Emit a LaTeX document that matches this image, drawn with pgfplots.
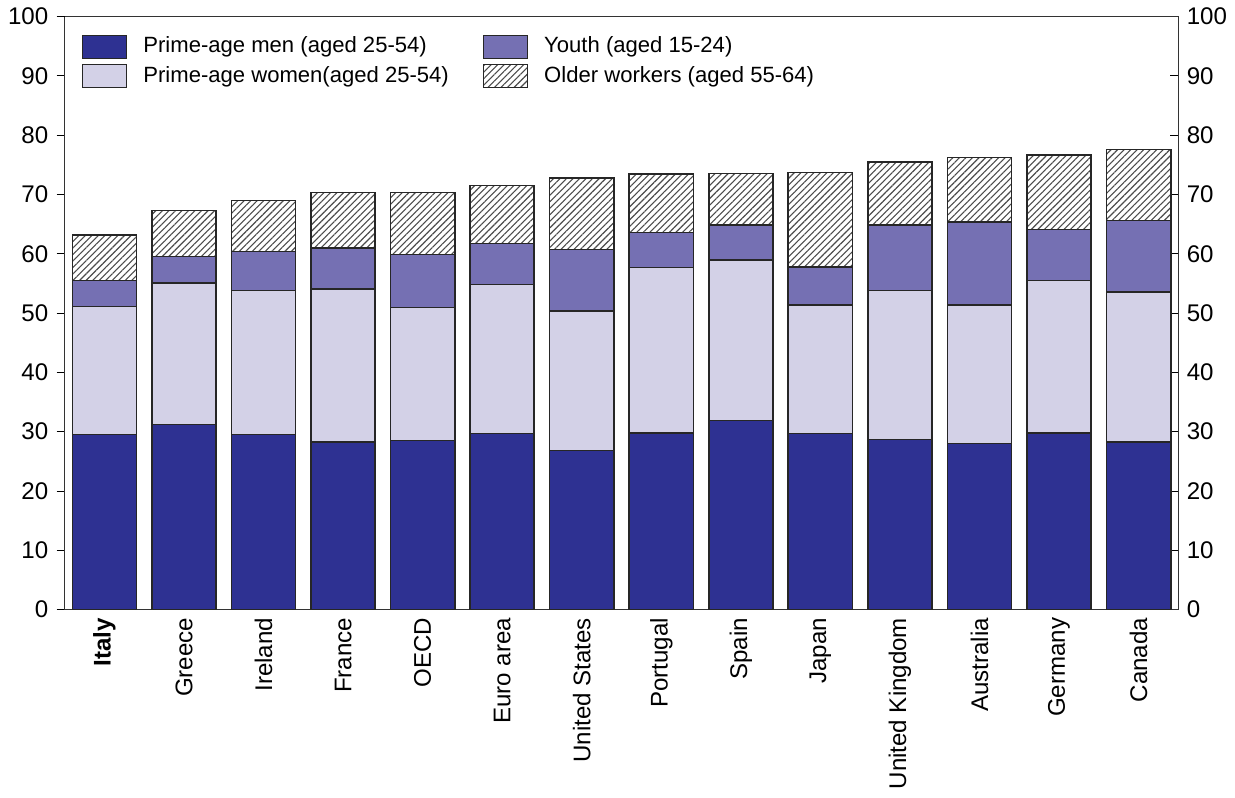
\documentclass[border=0pt]{standalone}
\usepackage{fontspec}
\setmainfont{Liberation Sans}
\usepackage{pgfplots}
\pgfplotsset{compat=1.18}
\usetikzlibrary{patterns.meta}
\definecolor{menc}{HTML}{2E3192}
\definecolor{womenc}{HTML}{D3D1E7}
\definecolor{youthc}{HTML}{7570B3}
\begin{document}
\fontsize{12}{14}\selectfont
\begin{tikzpicture}
\begin{axis}[
  scale only axis,
  width=555pt, height=295.5pt,
  ybar stacked,
  bar width=32pt,
  xmin=-0.5, xmax=13.5,
  ymin=0, ymax=100,
  ytick={0,10,...,100},
  xtick={0,...,13},
  xticklabels={\textbf{Italy},Greece,Ireland,France,OECD,Euro area,United States,Portugal,Spain,Japan,United Kingdom,Australia,Germany,Canada},
  x tick label style={rotate=90, anchor=east, font=\fontsize{12}{14}\selectfont, xshift=0pt},
  y tick label style={font=\fontsize{12}{14}\selectfont},
  /pgf/number format/assume math mode=true,
  tick align=inside,
  xtick pos=bottom,
  ytick pos=right,
  yticklabel pos=right,
  major tick length=4pt,
  tick style={black, line width=0.4pt},
  axis line style={black!80, line width=0.8pt},
  legend columns=2,
  transpose legend,
  legend style={at={(0.01,0.98)}, anchor=north west, draw=none, fill=none,
    font=\fontsize{11}{13}\selectfont, column sep=0pt, row sep=1pt,
    /tikz/every even column/.style={column sep=15pt}},
  legend cell align=left,
  legend image code/.code={\draw[#1, line width=0.5pt] (0pt,-5.75pt) rectangle (22pt,5.75pt);},
  every axis plot/.append style={draw=black!85, line width=0.8pt},
]
\addplot[fill=menc] coordinates {(0,29.5)(1,31.2)(2,29.5)(3,28.2)(4,28.5)(5,29.7)(6,26.8)(7,29.8)(8,31.9)(9,29.7)(10,28.7)(11,28.0)(12,29.8)(13,28.2)};
\addlegendentry{\hspace{6pt}Prime-age men (aged 25-54)}
\addplot[fill=womenc] coordinates {(0,21.6)(1,23.9)(2,24.3)(3,25.9)(4,22.4)(5,25.1)(6,23.5)(7,27.9)(8,27.0)(9,21.7)(10,25.1)(11,23.4)(12,25.7)(13,25.3)};
\addlegendentry{\hspace{6pt}Prime-age women(aged 25-54)}
\addplot[fill=youthc] coordinates {(0,4.4)(1,4.4)(2,6.6)(3,6.9)(4,9.0)(5,6.9)(6,10.4)(7,5.9)(8,5.9)(9,6.4)(10,11.0)(11,14.0)(12,8.6)(13,12.1)};
\addlegendentry{\hspace{6pt}Youth (aged 15-24)}
\addplot[fill=white, postaction={pattern={Lines[angle=45, distance=2.3pt, line width=0.55pt]}, pattern color=black!70}] coordinates {(0,7.7)(1,7.8)(2,8.6)(3,9.3)(4,10.4)(5,9.8)(6,12.1)(7,9.8)(8,8.7)(9,15.9)(10,10.7)(11,10.8)(12,12.6)(13,12.0)};
\addlegendentry{\hspace{6pt}Older workers (aged 55-64)}
\end{axis}
\begin{axis}[
  scale only axis,
  width=555pt, height=295.5pt,
  xmin=-0.5, xmax=13.5,
  ymin=0, ymax=100,
  ytick={0,10,...,100},
  axis x line=none,
  axis y line*=left,
  tick align=outside,
  major tick length=4pt,
  tick style={black, line width=0.4pt},
  axis line style={black!80, line width=0.8pt},
  y tick label style={font=\fontsize{12}{14}\selectfont},
  /pgf/number format/assume math mode=true,
]
\addplot[draw=none, forget plot] coordinates {(0,0)};
\end{axis}
\end{tikzpicture}
\end{document}
